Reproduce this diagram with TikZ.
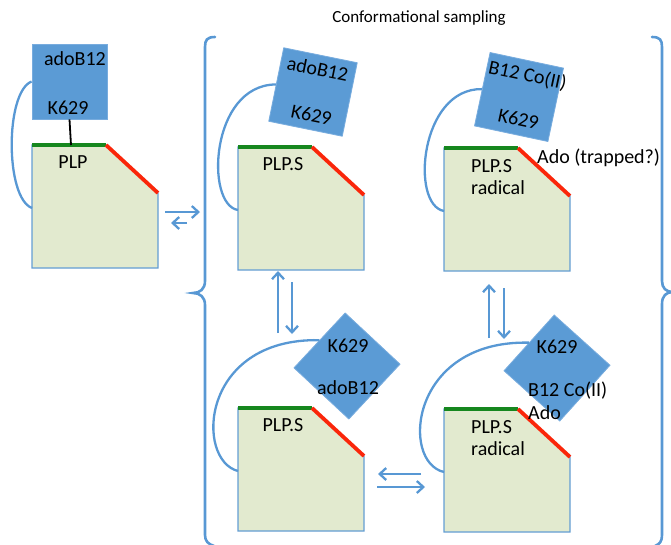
\documentclass[tikz,border=0pt]{standalone}
\usepackage{fontspec}
\setmainfont{Carlito}
\usetikzlibrary{arrows.meta}

\definecolor{sqfill}{RGB}{91,155,213}
\definecolor{sqedge}{RGB}{120,172,222}
\definecolor{linkblue}{RGB}{88,152,212}
\definecolor{bodyfill}{RGB}{226,234,207}
\definecolor{bodyedge}{RGB}{100,158,212}
\definecolor{greenedge}{RGB}{22,135,30}
\definecolor{rededge}{RGB}{250,38,10}

\tikzset{
  bsq/.style={draw=sqedge, fill=sqfill, minimum size=75pt, inner sep=0pt, line width=0.8pt},
  lbl/.style={font=\fontsize{20}{23}\selectfont, inner sep=0pt, text height=12.5pt, text depth=0pt},
  conn/.style={draw=linkblue, line width=2.3pt},
  arr/.style={conn, -{Straight Barb[length=6.5pt,width=12pt]}},
  bracket/.style={draw=linkblue, line width=2.6pt, line cap=round},
  pics/enzyme/.style={code={
    \filldraw[fill=bodyfill, draw=bodyedge, line width=1.1pt]
      (0,0) -- (74,0) -- (126,-48) -- (126,-123) -- (0,-123) -- cycle;
    \draw[greenedge, line width=3.8pt] (0,0) -- (74,0);
    \draw[rededge, line width=3.8pt] (74,0) -- (126,-48);
    \coordinate (-left) at (0,-63);
    \coordinate (-top) at (39,0);
  }}
}

\begin{document}
\begin{tikzpicture}[x=1pt, y=1pt]
\useasboundingbox (0,0) rectangle (671,-544);

% title
\node[font=\fontsize{17}{20}\selectfont, inner sep=0pt] (title) at (419,-18) {Conformational sampling};

% enzyme bodies
\pic (bA) at (32,-145) {enzyme};
\pic (bB) at (238,-147) {enzyme};
\pic (bC) at (444,-148) {enzyme};
\pic (bD) at (238,-408) {enzyme};
\pic (bE) at (444,-409) {enzyme};

% state A: bound cofactor
\node[bsq] (sqA) at (69.5,-81.5) {};
\node[lbl] (tA1) at (75,-59) {adoB12};
\node[lbl] (tA2) at (68,-108) {K629};
\node[lbl] (pA) at (73,-162) {PLP};
\draw[black, line width=1.8pt] (sqA.south) -- (bA-top);
\draw[conn] (sqA.west) .. controls (5,-92) and (5,-198) .. (bA-left);

% state B
\begin{scope}[shift={(313,-92)}, rotate=-11.5]
  \node[bsq, rotate=-11.5] (sqB) at (0,0) {};
  \node[lbl, rotate=-11.5] (tB1) at (0,23) {adoB12};
  \node[lbl, rotate=-11.5] (tB2) at (3,-23) {K629};
\end{scope}
\node[lbl] (pB) at (283,-164) {PLP.S};
\draw[conn] (sqB.west) .. controls (210,-85) and (205,-205) .. (bB-left);

% state C
\begin{scope}[shift={(519,-97)}, rotate=-12]
  \node[bsq, rotate=-12] (sqC) at (0,0) {};
  \node[lbl, rotate=-12] (tC1) at (4,23) {B12 Co(II)};
  \node[lbl, rotate=-12] (tC2) at (4,-22) {K629};
\end{scope}
\node[lbl, anchor=west] (adoC) at (537,-157) {Ado (trapped?)};
\node[lbl, anchor=west] (pC1) at (471,-166) {PLP.S};
\node[lbl, anchor=west] (pC2) at (471,-188) {radical};
\draw[conn] (sqC.west) .. controls (420,-88) and (410,-205) .. (bC-left);

% state D
\node[bsq, rotate=47] (sqD) at (347,-366) {};
\node[lbl] (tD1) at (348,-346) {K629};
\node[lbl] (tD2) at (348,-388) {adoB12};
\node[lbl] (pD) at (283,-425) {PLP.S};
\draw[conn] (sqD.north) .. controls (200,-338) and (195,-460) .. (bD-left);

% state E
\node[bsq, rotate=48] (sqE) at (557,-368) {};
\node[lbl] (tE1) at (557,-347) {K629};
\node[lbl, anchor=west] (tE2) at (528,-390) {B12 Co(II)};
\node[lbl, anchor=west] (tE3) at (528,-413) {Ado};
\node[lbl, anchor=west] (pE1) at (471,-427) {PLP.S};
\node[lbl, anchor=west] (pE2) at (471,-449) {radical};
\draw[conn] (sqE.north) .. controls (410,-340) and (400,-462) .. (bE-left);

% equilibrium arrows
\coordinate (h1s) at (165,-212); \coordinate (h1e) at (200,-212);
\coordinate (h2s) at (187,-223); \coordinate (h2e) at (171,-223);
\draw[arr] (h1s) -- (h1e);
\draw[arr] (h2s) -- (h2e);

\coordinate (v1s) at (278,-333); \coordinate (v1e) at (278,-271);
\coordinate (v2s) at (292,-282); \coordinate (v2e) at (292,-334);
\draw[arr] (v1s) -- (v1e);
\draw[arr] (v2s) -- (v2e);

\coordinate (v3s) at (489,-338); \coordinate (v3e) at (489,-284);
\coordinate (v4s) at (504,-288); \coordinate (v4e) at (504,-339);
\draw[arr] (v3s) -- (v3e);
\draw[arr] (v4s) -- (v4e);

\coordinate (h3s) at (421,-474); \coordinate (h3e) at (378,-474);
\coordinate (h4s) at (377,-487); \coordinate (h4e) at (425,-487);
\draw[arr] (h3s) -- (h3e);
\draw[arr] (h4s) -- (h4e);

% brackets around the sampled states
\draw[bracket] (215,-37) .. controls (207,-37) and (205,-40) .. (205,-47)
  -- (205,-281) .. controls (205,-289) and (200,-293) .. (193,-293)
  .. controls (200,-293) and (205,-297) .. (205,-305)
  -- (205,-535) .. controls (205,-541) and (208,-544) .. (214,-546);
\draw[bracket] (652,-37) .. controls (660,-37) and (662,-40) .. (662,-47)
  -- (662,-281) .. controls (662,-288) and (666,-292) .. (673,-292)
  .. controls (666,-292) and (662,-296) .. (662,-304)
  -- (662,-535) .. controls (662,-541) and (660,-544) .. (655,-546);
\end{tikzpicture}
\end{document}
